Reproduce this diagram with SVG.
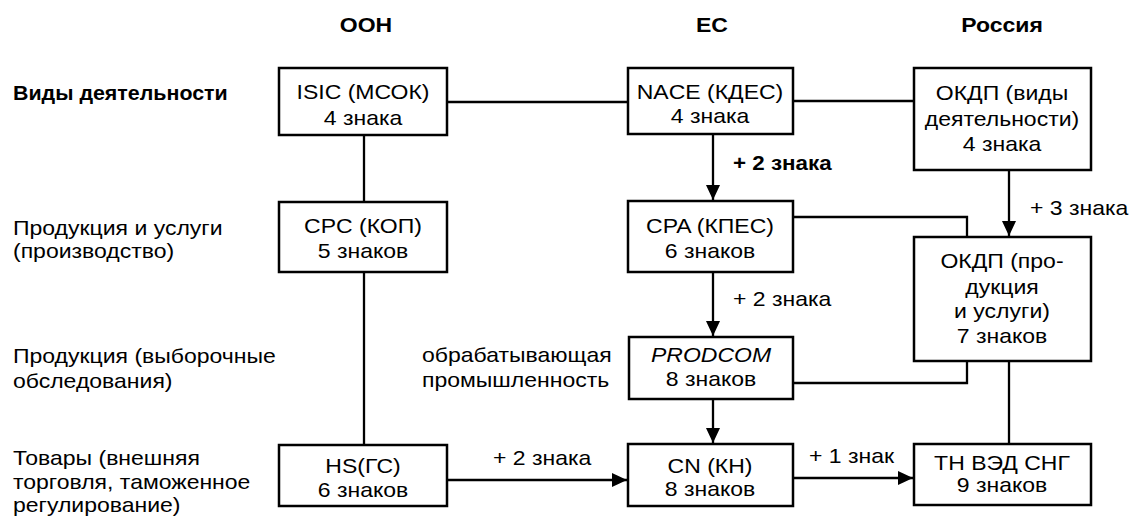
<svg xmlns="http://www.w3.org/2000/svg" width="1129" height="524" viewBox="0 0 1129 524">
<style>
text{font-family:"Liberation Sans",Arial,sans-serif;font-size:20px;fill:#000}
.b{font-weight:bold}
.i{font-style:italic}
.m{text-anchor:middle}
rect{fill:#fff;stroke:#000;stroke-width:2.5}
.c line,.c polyline{stroke:#000;stroke-width:2.3;fill:none}
</style>
<defs>
<marker id="ah" viewBox="0 0 15 14" refX="15" refY="7" markerWidth="15" markerHeight="14" markerUnits="userSpaceOnUse" orient="auto"><path d="M0,0 L15,7 L0,14 z" fill="#000"/></marker>
</defs>
<rect x="0" y="0" width="1129" height="524" style="fill:#fff;stroke:none"/>
<g id="headers">
<text class="b m" transform="translate(366,32) scale(1.15,1)">ООН</text>
<text class="b m" transform="translate(712,32) scale(1.15,1)">ЕС</text>
<text class="b m" transform="translate(1002,32) scale(1.15,1)">Россия</text>
</g>
<g id="rowlabels">
<text class="b" transform="translate(13,100) scale(1.07,1)">Виды деятельности</text>
<text transform="translate(13,235) scale(1.15,1)">Продукция и услуги</text>
<text transform="translate(13,258) scale(1.15,1)">(производство)</text>
<text transform="translate(13,363) scale(1.15,1)">Продукция (выборочные</text>
<text transform="translate(13,388) scale(1.15,1)">обследования)</text>
<text transform="translate(13,465) scale(1.15,1)">Товары (внешняя</text>
<text transform="translate(13,489) scale(1.15,1)">торговля, таможенное</text>
<text transform="translate(13,512) scale(1.15,1)">регулирование)</text>
<text transform="translate(422,362) scale(1.15,1)">обрабатывающая</text>
<text transform="translate(422,387) scale(1.15,1)">промышленность</text>
</g>
<g class="c" id="connectors">
<line x1="447" y1="102" x2="628" y2="102"/>
<line x1="793" y1="101" x2="914" y2="101"/>
<line x1="364" y1="135" x2="364" y2="202"/>
<line x1="364" y1="272" x2="364" y2="445"/>
<line x1="713" y1="134" x2="713" y2="200" marker-end="url(#ah)"/>
<line x1="713" y1="272" x2="713" y2="336" marker-end="url(#ah)"/>
<line x1="713" y1="399" x2="713" y2="443" marker-end="url(#ah)"/>
<polyline points="793,217 967,217 967,237"/>
<polyline points="793,383 967,383 967,361"/>
<line x1="1009" y1="170" x2="1009" y2="236" marker-end="url(#ah)"/>
<line x1="1009" y1="361" x2="1009" y2="444"/>
<line x1="447" y1="480" x2="627" y2="480" marker-end="url(#ah)"/>
<line x1="793" y1="478" x2="913" y2="478" marker-end="url(#ah)"/>
<text class="b" transform="translate(733,170) scale(1.12,1)">+ 2 знака</text>
<text transform="translate(733,306) scale(1.15,1)">+ 2 знака</text>
<text transform="translate(1030,215) scale(1.15,1)">+ 3 знака</text>
<text transform="translate(493,465) scale(1.15,1)">+ 2 знака</text>
<text transform="translate(809,463) scale(1.15,1)">+ 1 знак</text>
</g>
<g id="isic">
<rect x="279" y="68" width="168" height="67"/>
<text class="m" transform="translate(363,99) scale(1.15,1)">ISIC (МСОК)</text>
<text class="m" transform="translate(363,125) scale(1.15,1)">4 знака</text>
</g>
<g id="nace">
<rect x="628" y="68" width="165" height="66"/>
<text class="m" transform="translate(710,99) scale(1.15,1)">NACE (КДЕС)</text>
<text class="m" transform="translate(710,123) scale(1.15,1)">4 знака</text>
</g>
<g id="okdp1">
<rect x="914" y="68" width="177" height="102"/>
<text class="m" transform="translate(1002,100) scale(1.15,1)">ОКДП (виды</text>
<text class="m" transform="translate(1002,126) scale(1.15,1)">деятельности)</text>
<text class="m" transform="translate(1002,151) scale(1.15,1)">4 знака</text>
</g>
<g id="cpc">
<rect x="279" y="202" width="168" height="70"/>
<text class="m" transform="translate(363,233) scale(1.15,1)">CPC (КОП)</text>
<text class="m" transform="translate(363,258) scale(1.15,1)">5 знаков</text>
</g>
<g id="cpa">
<rect x="628" y="201" width="165" height="71"/>
<text class="m" transform="translate(710,233) scale(1.15,1)">CPA (КПЕС)</text>
<text class="m" transform="translate(710,258) scale(1.15,1)">6 знаков</text>
</g>
<g id="okdp2">
<rect x="914" y="237" width="177" height="124"/>
<text class="m" transform="translate(1002,268) scale(1.15,1)">ОКДП (про-</text>
<text class="m" transform="translate(1002,294) scale(1.15,1)">дукция</text>
<text class="m" transform="translate(1002,318) scale(1.15,1)">и услуги)</text>
<text class="m" transform="translate(1002,343) scale(1.15,1)">7 знаков</text>
</g>
<g id="prodcom">
<rect x="629" y="337" width="164" height="62"/>
<text class="m i" transform="translate(711,362) scale(1.15,1)">PRODCOM</text>
<text class="m" transform="translate(711,386) scale(1.15,1)">8 знаков</text>
</g>
<g id="hs">
<rect x="279" y="445" width="168" height="61"/>
<text class="m" transform="translate(363,473) scale(1.15,1)">HS(ГС)</text>
<text class="m" transform="translate(363,497) scale(1.15,1)">6 знаков</text>
</g>
<g id="cn">
<rect x="628" y="444" width="165" height="62"/>
<text class="m" transform="translate(710,473) scale(1.15,1)">CN (КН)</text>
<text class="m" transform="translate(710,496) scale(1.15,1)">8 знаков</text>
</g>
<g id="tnved">
<rect x="914" y="444" width="177" height="61"/>
<text class="m" transform="translate(1002,470) scale(1.15,1)">ТН ВЭД СНГ</text>
<text class="m" transform="translate(1002,492) scale(1.15,1)">9 знаков</text>
</g>
</svg>
